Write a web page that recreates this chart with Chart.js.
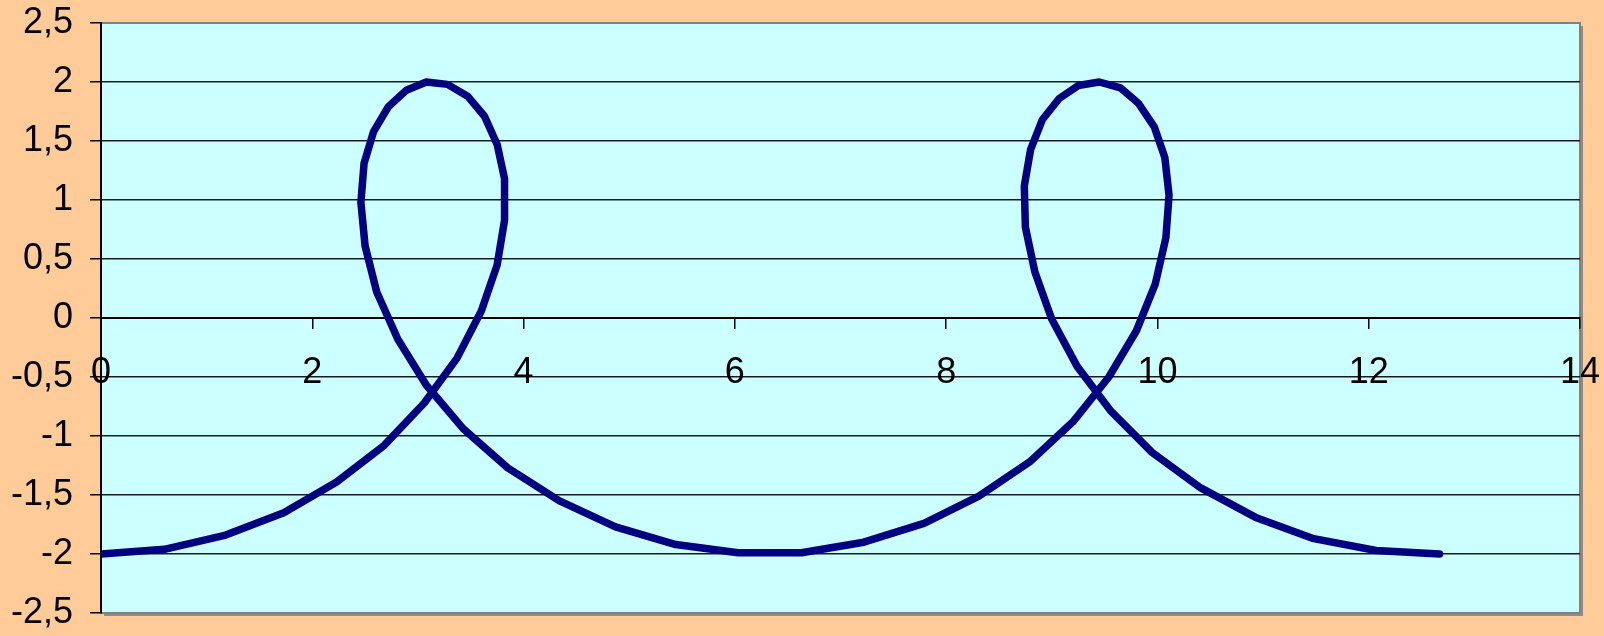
<!DOCTYPE html>
<html>
<head>
    <meta charset="utf-8"/>
    <title>Kurve</title>
    <script src="https://cdn.jsdelivr.net/npm/chart.js"></script>
    <style>
        body {
            margin: 0;
            background-color: #ffcc99;
        }

        canvas {
            display: block;
        }
    </style>
</head>
<body>
    <canvas id="kurve" width="1604" height="636"></canvas>

    <script>
        // Punkte der Kurve
        const xWerte = [
            0, 0.60, 1.18, 1.73, 2.23, 2.68, 3.06, 3.37, 3.60, 3.75, 3.82, 3.82, 3.75, 3.63, 3.47, 3.28,
            3.08, 2.89, 2.72, 2.58, 2.49, 2.46, 2.50, 2.61, 2.81, 3.08, 3.43, 3.85, 4.34, 4.87, 5.44, 6.03,
            6.63, 7.22, 7.79, 8.31, 8.79, 9.20, 9.54, 9.80, 9.98, 10.08, 10.11, 10.07, 9.97, 9.82, 9.65, 9.45,
            9.25, 9.07, 8.91, 8.80, 8.74, 8.75, 8.84, 9.00, 9.24, 9.56, 9.95, 10.41, 10.93, 11.48, 12.07, 12.67
        ];
        const yWerte = [
            -2, -1.96, -1.84, -1.65, -1.39, -1.08, -0.72, -0.34, 0.06, 0.45, 0.83, 1.18, 1.47, 1.71, 1.88, 1.98,
            2.00, 1.93, 1.79, 1.58, 1.31, 0.98, 0.61, 0.22, -0.18, -0.57, -0.94, -1.27, -1.55, -1.77, -1.92, -1.99,
            -1.99, -1.90, -1.74, -1.51, -1.22, -0.88, -0.50, -0.11, 0.29, 0.68, 1.04, 1.36, 1.62, 1.82, 1.95, 2.00,
            1.97, 1.86, 1.68, 1.43, 1.12, 0.77, 0.39, -0.01, -0.41, -0.79, -1.14, -1.44, -1.69, -1.87, -1.97, -2.00
        ];

        // Achsen
        const xMin = 0, xMax = 14, xSchritt = 2;
        const yMin = -2.5, yMax = 2.5, ySchritt = 0.5;

        const punkte = xWerte.map((x, i) => ({ x: x, y: yWerte[i] }));

        // Zeichenfläche hellblau mit grauem Rand und Schatten
        const zeichenflaeche = {
            id: 'zeichenflaeche',
            beforeDraw(chart) {
                const { ctx, chartArea: a } = chart;
                ctx.save();
                ctx.fillStyle = '#8c8c8c';
                ctx.fillRect(a.left + 3, a.top + 3, a.right - a.left, a.bottom - a.top);
                ctx.fillStyle = '#ccffff';
                ctx.fillRect(a.left, a.top, a.right - a.left, a.bottom - a.top);
                ctx.strokeStyle = '#808080';
                ctx.lineWidth = 2;
                ctx.strokeRect(a.left, a.top, a.right - a.left, a.bottom - a.top);
                ctx.restore();
            }
        };

        const komma = v => String(v).replace('.', ',');
        const schrift = { family: '"Liberation Sans", Arial, sans-serif', size: 36 };

        new Chart(document.getElementById('kurve'), {
            type: 'scatter',
            data: {
                datasets: [{
                    data: punkte,
                    showLine: true,
                    borderColor: '#000080',
                    borderWidth: 7.5,
                    borderJoinStyle: 'round',
                    borderCapStyle: 'round',
                    pointRadius: 0,
                    tension: 0
                }]
            },
            options: {
                responsive: false,
                animation: false,
                layout: { padding: { left: 0, top: 23, right: 24, bottom: 23 } },
                plugins: {
                    legend: { display: false },
                    tooltip: { enabled: false }
                },
                scales: {
                    x: {
                        type: 'linear',
                        position: { y: 0 },
                        min: xMin,
                        max: xMax,
                        ticks: {
                            stepSize: xSchritt,
                            color: '#000',
                            font: schrift,
                            padding: 23,
                            maxRotation: 0,
                            callback: v => komma(v)
                        },
                        grid: {
                            drawOnChartArea: false,
                            drawTicks: true,
                            tickLength: 10,
                            color: '#000',
                            lineWidth: 1.5
                        },
                        border: { color: '#000', width: 2 },
                        afterFit: s => {
                            s.height = 0;
                            s.paddingLeft = 0;
                            s.paddingRight = 0;
                        }
                    },
                    y: {
                        min: yMin,
                        max: yMax,
                        ticks: {
                            stepSize: ySchritt,
                            color: '#000',
                            font: schrift,
                            padding: 17,
                            callback: v => komma(v)
                        },
                        grid: {
                            color: c => (c.tick && Math.abs(c.tick.value) === 2.5) ? '#808080' : '#1a1a1a',
                            tickColor: '#000',
                            lineWidth: 1.5,
                            tickLength: 11
                        },
                        border: { color: '#000', width: 2 },
                        afterFit: s => {
                            s.width = 101;
                            s.paddingTop = 0;
                            s.paddingBottom = 0;
                        }
                    }
                }
            },
            plugins: [zeichenflaeche]
        });
    </script>
</body>
</html>
